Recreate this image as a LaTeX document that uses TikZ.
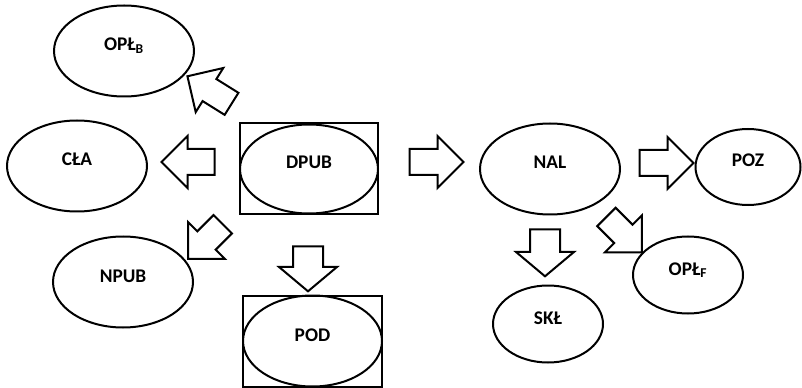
\documentclass[tikz,border=0pt]{standalone}
\usepackage{fontspec}
\setmainfont{Carlito}
\usetikzlibrary{shapes.geometric,shapes.arrows}

\tikzset{every picture/.style={line width=1.5pt}}
\tikzset{
  bigoval/.style={ellipse, draw, inner sep=0pt, minimum width=0.75*140pt, minimum height=0.75*91pt,
    font=\fontsize{14.5}{16}\bfseries\selectfont, text height=0pt, text depth=0pt},
  smalloval/.style={bigoval, minimum width=0.75*110pt, minimum height=0.75*77pt},
  frame/.style={draw, rectangle, inner sep=0pt, minimum width=0.75*139pt, minimum height=0.75*91pt},
  blockarrow/.style={single arrow, draw, inner xsep=0pt, inner ysep=0.75*12pt, minimum width=0pt,
    minimum height=0.75*53pt, single arrow head extend=0.75*13pt, single arrow tip angle=90},
  downarrow/.style={blockarrow, inner ysep=0.75*14pt, single arrow head extend=0.75*14pt,
    minimum height=0.75*46pt, single arrow tip angle=100},
}

\begin{document}
\begin{tikzpicture}[x=0.75pt,y=0.75pt,yscale=-1,xscale=1]
        \useasboundingbox (0,0) rectangle (802,388);

        %Shape: Rectangle [id:dpubframe]
        \node [frame, minimum width=0.75*138pt] (dpubframe) at (309,169) {};
        %Shape: Rectangle [id:podframe]
        \node [frame] (podframe) at (312.5,341) {};

        %Shape: Ellipse [id:dpub]
        \node [bigoval, minimum width=0.75*138pt, minimum height=0.75*89pt] (dpub) at (309,169) {DPUB};
        %Shape: Ellipse [id:oplb]
        \node [bigoval] (oplb) at (124,51) {OPŁ\textsubscript{B}};
        %Shape: Ellipse [id:cla]
        \node [bigoval] (cla) at (77,166) {CŁA};
        %Shape: Ellipse [id:npub]
        \node [bigoval] (npub) at (123,282) {NPUB};
        %Shape: Ellipse [id:pod]
        \node [bigoval, minimum width=0.75*139pt] (pod) at (312.5,341) {POD};
        %Shape: Ellipse [id:nal]
        \node [bigoval] (nal) at (550,169) {NAL};
        %Shape: Ellipse [id:poz]
        \node [smalloval, minimum width=0.75*105pt, minimum height=0.75*76pt] (poz) at (748,167) {POZ};
        %Shape: Ellipse [id:skl]
        \node [smalloval] (skl) at (548,324) {SKŁ};
        %Shape: Ellipse [id:oplf]
        \node [smalloval] (oplf) at (688,275) {OPŁ\textsubscript{F}};

        %Block Arrows [id:dpub-out]
        \node [blockarrow, rotate=180] (tocla) at (194.5,162) {};
        \node [blockarrow, rotate=148, minimum height=0.75*52pt] (tooplb) at (215,93.5) {};
        \node [blockarrow, rotate=225, minimum height=0.75*49pt] (tonpub) at (210,237) {};
        \node [downarrow, rotate=270, minimum height=0.75*45pt] (topod) at (308,262.5) {};
        \node [blockarrow, minimum height=0.75*54pt] (tonal) at (430,162) {};
        %Block Arrows [id:nal-out]
        \node [blockarrow, minimum height=0.75*54pt] (topoz) at (660,163) {};
        \node [downarrow, rotate=270, minimum height=0.75*47pt] (toskl) at (545,246.5) {};
        \node [blockarrow, rotate=-45, minimum height=0.75*50pt] (tooplf) at (619.5,230) {};

    \end{tikzpicture}
\end{document}
